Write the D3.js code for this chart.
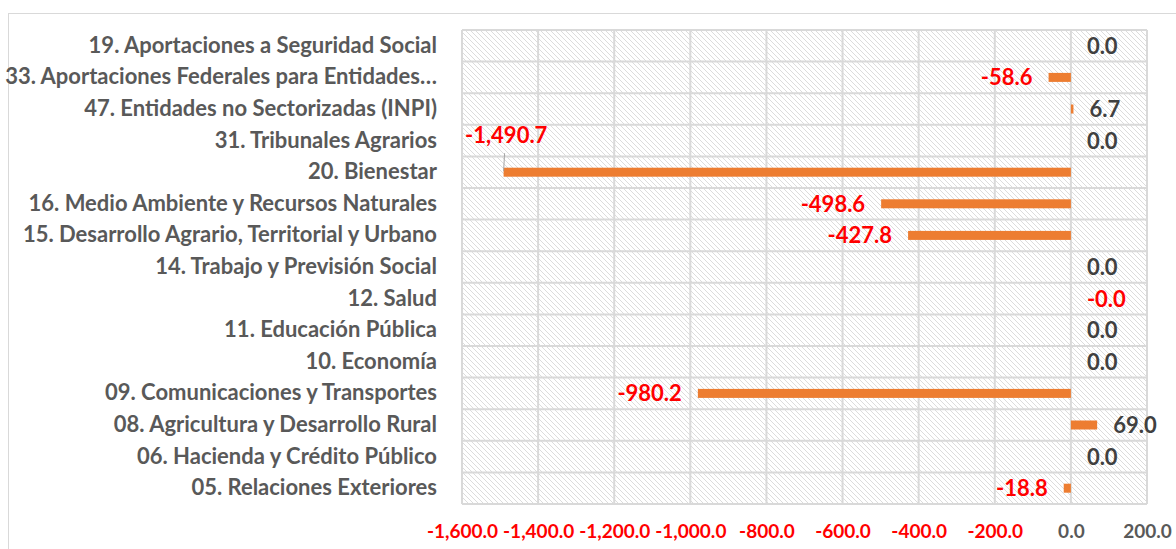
<!DOCTYPE html>
<html>
<head>
<meta charset="utf-8">
<script src="https://cdn.jsdelivr.net/npm/d3@7/dist/d3.min.js"></script>
<style>
    body { margin: 0; background: #fff; }
    svg { display: block; font-family: Lato, 'Open Sans', sans-serif; font-weight: bold; }
</style>
</head>
<body>
<div id="chart"></div>
<script>
// Categories, top to bottom as in the chart
const categories = [
    '19. Aportaciones a Seguridad Social',
    '33. Aportaciones Federales para Entidades…',
    '47. Entidades no Sectorizadas (INPI)',
    '31. Tribunales Agrarios',
    '20. Bienestar',
    '16. Medio Ambiente y Recursos Naturales',
    '15. Desarrollo Agrario, Territorial y Urbano',
    '14. Trabajo y Previsión Social',
    '12. Salud',
    '11. Educación Pública',
    '10. Economía',
    '09. Comunicaciones y Transportes',
    '08. Agricultura y Desarrollo Rural',
    '06. Hacienda y Crédito Público',
    '05. Relaciones Exteriores'
];

// Variation (millions), same order
const values = [0.0, -58.6, 6.7, 0.0, -1490.7, -498.6, -427.8, 0.0, -0.01, 0.0, 0.0, -980.2, 69.0, 0.0, -18.8];

const tickValues = [-1600, -1400, -1200, -1000, -800, -600, -400, -200, 0, 200];

const width = 1176;
const height = 549;
const margin = { top: 30, right: 29, bottom: 45, left: 462 };

const barColor = '#ED7D31';
const negColor = '#FF0000';
const gridColor = '#d9d9d9';

// "-0.0" must keep its sign, so format the magnitude and prepend it
const fmt = v => (v < 0 ? '-' : '') + d3.format(',.1f')(Math.abs(v));

const svg = d3.select('#chart').append('svg')
    .attr('width', width)
    .attr('height', height);

// Outer chart frame (runs off the right and bottom edges)
svg.append('rect')
    .attr('x', 8.5)
    .attr('y', 13.5)
    .attr('width', width)
    .attr('height', height)
    .attr('fill', 'none')
    .attr('stroke', gridColor);

// Hatched plot background
const pattern = svg.append('defs')
    .append('pattern')
    .attr('id', 'hatch')
    .attr('patternUnits', 'userSpaceOnUse')
    .attr('width', 5)
    .attr('height', 5);

pattern.append('rect')
    .attr('width', 5)
    .attr('height', 5)
    .attr('fill', '#fff');

pattern.append('path')
    .attr('d', 'M-1,-1L6,6M4,-1L6,1M-1,4L1,6')
    .attr('stroke', '#dcdcdc')
    .attr('stroke-width', 1);

const x = d3.scaleLinear()
    .domain([tickValues[0], tickValues[tickValues.length - 1]])
    .range([margin.left, width - margin.right]);

const y = d3.scaleBand()
    .domain(categories)
    .range([margin.top, height - margin.bottom]);

svg.append('rect')
    .attr('x', x.range()[0])
    .attr('y', y.range()[0])
    .attr('width', x.range()[1] - x.range()[0])
    .attr('height', y.range()[1] - y.range()[0])
    .attr('fill', 'url(#hatch)');

// Grid lines: vertical at ticks, horizontal between categories
const grid = svg.append('g')
    .attr('stroke', gridColor)
    .attr('stroke-width', 2);

grid.selectAll('.vgrid')
    .data(tickValues)
    .enter()
    .append('line')
    .attr('x1', d => x(d))
    .attr('x2', d => x(d))
    .attr('y1', y.range()[0])
    .attr('y2', y.range()[1]);

grid.selectAll('.hgrid')
    .data(categories.map(c => y(c)).concat([y.range()[1]]))
    .enter()
    .append('line')
    .attr('x1', x.range()[0])
    .attr('x2', x.range()[1])
    .attr('y1', d => d)
    .attr('y2', d => d);

// Category axis
const yAxis = svg.append('g')
    .attr('transform', `translate(${margin.left},0)`)
    .call(d3.axisLeft(y).tickSize(0).tickPadding(25));

yAxis.select('.domain').remove();
yAxis.selectAll('text')
    .style('font-family', 'Lato, sans-serif')
    .style('font-size', '22px')
    .style('font-weight', 'bold')
    .attr('fill', '#595959');

// Value axis
const xAxis = svg.append('g')
    .attr('transform', `translate(0,${y.range()[1]})`)
    .call(d3.axisBottom(x).tickValues(tickValues).tickFormat(fmt).tickSize(0).tickPadding(21));

xAxis.select('.domain').remove();
xAxis.selectAll('text')
    .style('font-family', 'Lato, sans-serif')
    .style('font-size', '19px')
    .style('font-weight', 'bold')
    .attr('fill', d => d < 0 ? negColor : '#595959');

// Bars
const rows = categories.map((c, i) => ({ name: c, value: values[i] }));
const barHeight = 9;

svg.append('g')
    .selectAll('rect')
    .data(rows)
    .enter()
    .append('rect')
    .attr('x', d => x(Math.min(0, d.value)))
    .attr('y', d => y(d.name) + y.bandwidth() / 2 - barHeight / 2)
    .attr('width', d => Math.abs(x(d.value) - x(0)))
    .attr('height', barHeight)
    .attr('fill', barColor);

// Data labels: outside the bar end, above with a leader when no room on the left
const labelGap = 16;
const labels = svg.append('g')
    .style('font-size', '22px');

rows.forEach(d => {
    const cy = y(d.name) + y.bandwidth() / 2;
    const end = x(d.value);
    const colour = d.value < 0 ? negColor : '#404040';
    const label = labels.append('text')
        .attr('y', cy)
        .attr('dy', '0.36em')
        .attr('fill', colour)
        .text(fmt(d.value));

    if (d.value > -0.05) {
        label.attr('x', end + labelGap).attr('text-anchor', 'start');
        return;
    }

    label.attr('x', end - labelGap).attr('text-anchor', 'end');
    if (label.node().getBBox().x < x.range()[0]) {
        // Not enough room: lift it above the bar and draw a leader line
        label.attr('x', x.range()[0] + 3)
            .attr('y', cy - 37)
            .attr('text-anchor', 'start');
        labels.append('line')
            .attr('x1', end + 1)
            .attr('x2', end)
            .attr('y1', cy - 19)
            .attr('y2', cy - 1)
            .attr('stroke', '#a6a6a6')
            .attr('stroke-width', 1);
    }
});
</script>
</body>
</html>
